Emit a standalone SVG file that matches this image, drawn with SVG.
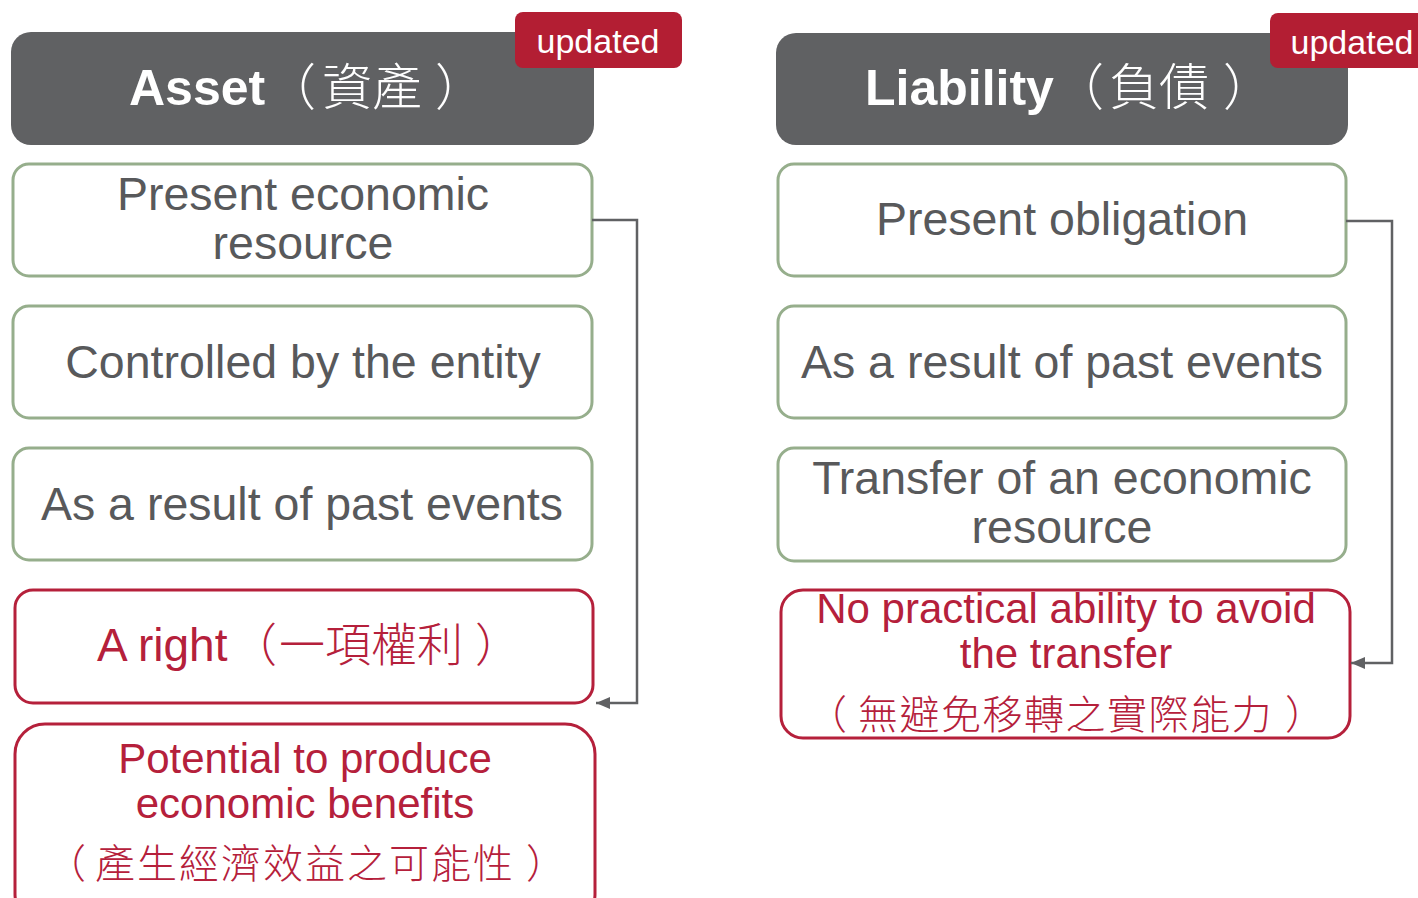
<svg xmlns="http://www.w3.org/2000/svg" width="1418" height="898" viewBox="0 0 1418 898">
  <style>
    .hdr { fill: #606163; }
    .badge { fill: #B31E33; }
    .gbox { fill: #FFFFFF; stroke: #96AE8C; stroke-width: 3; }
    .rbox { fill: #FFFFFF; stroke: #B5203B; stroke-width: 3; }
    .htxt { font-family: "Liberation Sans", "Noto Sans CJK TC", sans-serif; font-weight: bold; font-size: 50px; fill: #FFFFFF; }
    .btxt { font-family: "Liberation Sans", sans-serif; font-size: 34px; fill: #FFFFFF; text-anchor: middle; }
    .gtxt { font-family: "Liberation Sans", "Noto Sans CJK TC", sans-serif; font-size: 46.5px; fill: #58595B; text-anchor: middle; }
    .rtxt { font-family: "Liberation Sans", "Noto Sans CJK TC", sans-serif; font-size: 42px; fill: #B5203B; text-anchor: middle; }
    .rleft { font-family: "Liberation Sans", "Noto Sans CJK TC", sans-serif; font-size: 46px; fill: #B5203B; text-anchor: start; }
    .rcjk { font-family: "Noto Sans CJK TC", sans-serif; font-weight: 300; fill: #B5203B; text-anchor: start; }
    .cjk { font-family: "Noto Sans CJK TC", sans-serif; font-weight: 300; }
    .conn { fill: none; stroke: #606163; stroke-width: 2.5; }
  </style>
  <defs>
    <marker id="arr" viewBox="0 0 14 12" refX="14" refY="6" markerWidth="14" markerHeight="12" markerUnits="userSpaceOnUse" orient="auto">
      <path d="M0,0 L14,6 L0,12 Z" fill="#606163"/>
    </marker>
  </defs>

  <g id="asset-header">
    <rect class="hdr" x="11" y="32" width="583" height="113" rx="20"/>
    <text class="htxt" x="129" y="105">Asset<tspan class="cjk" font-weight="normal" x="266">（</tspan><tspan class="cjk" font-weight="normal" x="322">資產</tspan><tspan class="cjk" font-weight="normal" x="435">）</tspan></text>
  </g>
  <g id="asset-badge">
    <rect class="badge" x="515" y="12" width="167" height="56" rx="8"/>
    <text class="btxt" x="598" y="53">updated</text>
  </g>

  <g id="liability-header">
    <rect class="hdr" x="776" y="33" width="572" height="112" rx="20"/>
    <text class="htxt" x="865" y="105">Liability<tspan class="cjk" font-weight="normal" x="1054">（</tspan><tspan class="cjk" font-weight="normal" x="1109">負債</tspan><tspan class="cjk" font-weight="normal" x="1223">）</tspan></text>
  </g>
  <g id="liability-badge">
    <rect class="badge" x="1270" y="13" width="170" height="55" rx="8"/>
    <text class="btxt" x="1352" y="54">updated</text>
  </g>

  <g id="a1">
    <rect class="gbox" x="13" y="164" width="579" height="112" rx="16"/>
    <text class="gtxt" x="303" y="210">Present economic</text>
    <text class="gtxt" x="303" y="259">resource</text>
  </g>
  <g id="a2">
    <rect class="gbox" x="13" y="306" width="579" height="112" rx="16"/>
    <text class="gtxt" x="303" y="378">Controlled by the entity</text>
  </g>
  <g id="a3">
    <rect class="gbox" x="13" y="448" width="579" height="112" rx="16"/>
    <text class="gtxt" x="302" y="520">As a result of past events</text>
  </g>
  <g id="a4">
    <rect class="rbox" x="15" y="590" width="578" height="113" rx="18"/>
    <text class="rleft" x="97" y="661">A right<tspan class="cjk" x="231">（</tspan><tspan class="cjk" x="279">一項權利</tspan><tspan class="cjk" x="475">）</tspan></text>
  </g>
  <g id="a5">
    <rect class="rbox" x="15" y="724" width="580" height="200" rx="30"/>
    <text class="rtxt" x="305" y="773">Potential to produce</text>
    <text class="rtxt" x="305" y="818">economic benefits</text>
    <text class="rcjk" y="878" font-size="40"><tspan x="46">（</tspan><tspan x="95" letter-spacing="2">產生經濟效益之可能性</tspan><tspan x="526">）</tspan></text>
  </g>

  <g id="l1">
    <rect class="gbox" x="778" y="164" width="568" height="112" rx="16"/>
    <text class="gtxt" x="1062" y="235">Present obligation</text>
  </g>
  <g id="l2">
    <rect class="gbox" x="778" y="306" width="568" height="112" rx="16"/>
    <text class="gtxt" x="1062" y="378">As a result of past events</text>
  </g>
  <g id="l3">
    <rect class="gbox" x="778" y="448" width="568" height="113" rx="16"/>
    <text class="gtxt" x="1062" y="494">Transfer of an economic</text>
    <text class="gtxt" x="1062" y="543">resource</text>
  </g>
  <g id="l4">
    <rect class="rbox" x="781" y="590" width="569" height="148" rx="22"/>
    <text class="rtxt" x="1066" y="623">No practical ability to avoid</text>
    <text class="rtxt" x="1066" y="668">the transfer</text>
    <text class="rcjk" y="729" font-size="40"><tspan x="807">（</tspan><tspan x="858" letter-spacing="1.5">無避免移轉之實際能力</tspan><tspan x="1285">）</tspan></text>
  </g>

  <g id="connectors">
    <path class="conn" d="M592,220 H637 V703 H596" marker-end="url(#arr)"/>
    <path class="conn" d="M1346,221 H1392 V663 H1351" marker-end="url(#arr)"/>
  </g>
</svg>
